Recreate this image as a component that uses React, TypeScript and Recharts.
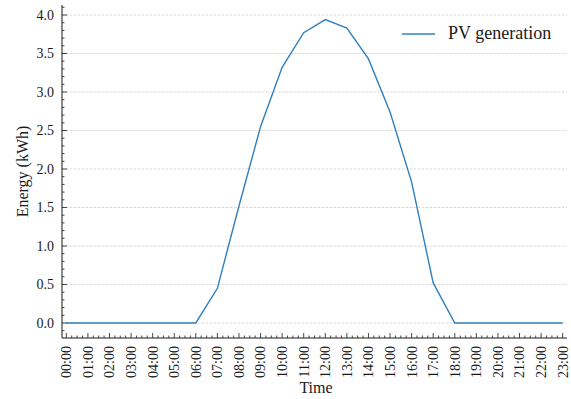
import { LineChart, Line, XAxis, YAxis, ReferenceLine, Legend } from "recharts";

const HOURS = [
  "00:00", "01:00", "02:00", "03:00", "04:00", "05:00", "06:00", "07:00",
  "08:00", "09:00", "10:00", "11:00", "12:00", "13:00", "14:00", "15:00",
  "16:00", "17:00", "18:00", "19:00", "20:00", "21:00", "22:00", "23:00",
];
const PV_KWH = [
  0, 0, 0, 0, 0, 0, 0, 0.45, 1.52, 2.55, 3.32, 3.77,
  3.94, 3.83, 3.43, 2.74, 1.83, 0.52, 0, 0, 0, 0, 0, 0,
];
const Y_GRID = [0, 0.5, 1, 1.5, 2, 2.5, 3, 3.5, 4];
const Y_LABELS = ["0.0", "0.5", "1.0", "1.5", "2.0", "2.5", "3.0", "3.5", "4.0"];

const data = HOURS.map((label, i) => ({ t: i, label, pv: PV_KWH[i] }));

// major ticks each hour / 0.5, minor ticks every quarter hour / 0.1
const X_TICKS = Array.from({ length: HOURS.length * 4 - 3 }, (_, i) => i / 4);
const Y_TICKS = Array.from({ length: 43 }, (_, i) => (i - 1) / 10);

const FONT = "'Liberation Serif', 'DejaVu Serif', serif";
const INK = "#1a1a1a";
const BLUE = "#2f7fbf";

const isMajorY = (v: number) => Math.abs(v * 2 - Math.round(v * 2)) < 1e-6;
const yLabel = (v: number) => Y_LABELS[Y_GRID.findIndex((g) => Math.abs(g - v) < 1e-6)];

function BottomTick({ x, y, payload }: any) {
  const v = payload.value;
  const major = Number.isInteger(v);
  return (
    <g>
      <line x1={x} y1={y} x2={x} y2={y - (major ? 5 : 2.5)} stroke={INK} strokeWidth={0.8} />
      {major && (
        <text
          transform={`translate(${x}, ${y + 8}) rotate(-90)`}
          textAnchor="end"
          dy="0.35em"
          fontFamily={FONT}
          fontSize={14}
          fill={INK}
        >
          {HOURS[v]}
        </text>
      )}
    </g>
  );
}

function TopTick({ x, y, payload }: any) {
  const major = Number.isInteger(payload.value);
  return <line x1={x} y1={y} x2={x} y2={y + (major ? 5 : 2.5)} stroke={INK} strokeWidth={0.8} />;
}

function LeftTick({ x, y, payload }: any) {
  const v = payload.value;
  const major = isMajorY(v);
  return (
    <g>
      <line x1={x} y1={y} x2={x + (major ? 5 : 2.5)} y2={y} stroke={INK} strokeWidth={0.8} />
      {major && (
        <text x={x - 8} y={y} dy="0.35em" textAnchor="end" fontFamily={FONT} fontSize={14} fill={INK}>
          {yLabel(v)}
        </text>
      )}
    </g>
  );
}

function RightTick({ x, y, payload }: any) {
  const major = isMajorY(payload.value);
  return <line x1={x} y1={y} x2={x - (major ? 5 : 2.5)} y2={y} stroke={INK} strokeWidth={0.8} />;
}

function LegendBox({ payload }: any) {
  return (
    <div style={{ display: "flex", alignItems: "center", fontFamily: FONT, fontSize: 18, color: INK }}>
      {(payload || []).map((p: any) => (
        <div key={p.value} style={{ display: "flex", alignItems: "center" }}>
          <svg width={44} height={10}>
            <line x1={6} x2={39} y1={5} y2={5} stroke={p.color} strokeWidth={1.5} />
          </svg>
          <span style={{ marginLeft: 8 }}>{p.value}</span>
        </div>
      ))}
    </div>
  );
}

export default function App() {
  return (
    <div style={{ position: "absolute", left: 0, top: 0, width: 571, height: 399, background: "#fff" }}>
      <LineChart width={571} height={399} data={data} margin={{ top: 5, right: 4, bottom: 0, left: 0 }}>
        <XAxis
          xAxisId="bottom"
          dataKey="t"
          type="number"
          domain={[-0.2, 23.2]}
          ticks={X_TICKS}
          interval={0}
          tickSize={0}
          tickMargin={0}
          tickLine={false}
          tick={<BottomTick />}
          height={61}
          axisLine={{ stroke: INK, strokeWidth: 1 }}
          label={{
            content: ({ viewBox }: any) => (
              <text
                x={viewBox.x + viewBox.width / 2 + 1.5}
                y={viewBox.y + 55}
                textAnchor="middle"
                fontFamily={FONT}
                fontSize={16}
                fill={INK}
              >
                Time
              </text>
            ),
          }}
        />
        <XAxis
          xAxisId="top"
          orientation="top"
          dataKey="t"
          type="number"
          domain={[-0.2, 23.2]}
          ticks={X_TICKS}
          interval={0}
          tickSize={0}
          tickMargin={0}
          tickLine={false}
          tick={<TopTick />}
          height={0}
          axisLine={{ stroke: INK, strokeWidth: 1 }}
        />
        <YAxis
          yAxisId="left"
          type="number"
          domain={[-0.195, 4.13]}
          ticks={Y_TICKS}
          interval={0}
          tickSize={0}
          tickMargin={0}
          tickLine={false}
          tick={<LeftTick />}
          width={62}
          axisLine={{ stroke: INK, strokeWidth: 1 }}
          label={{
            content: ({ viewBox }: any) => (
              <text
                transform={`translate(${viewBox.x + 22}, ${viewBox.y + viewBox.height / 2}) rotate(-90)`}
                textAnchor="middle"
                dy="0.35em"
                fontFamily={FONT}
                fontSize={16}
                fill={INK}
              >
                Energy (kWh)
              </text>
            ),
          }}
        />
        <YAxis
          yAxisId="right"
          orientation="right"
          type="number"
          domain={[-0.195, 4.13]}
          ticks={Y_TICKS}
          interval={0}
          tickSize={0}
          tickMargin={0}
          tickLine={false}
          tick={<RightTick />}
          width={0}
          axisLine={{ stroke: INK, strokeWidth: 1 }}
        />
        {Y_GRID.map((g) => (
          <ReferenceLine
            key={g}
            xAxisId="bottom"
            yAxisId="left"
            y={g}
            stroke="#c6c6c6"
            strokeWidth={0.7}
            strokeDasharray="2.5 1.5"
          />
        ))}
        <Line
          xAxisId="bottom"
          yAxisId="left"
          type="linear"
          dataKey="pv"
          name="PV generation"
          stroke={BLUE}
          strokeWidth={1.4}
          dot={false}
          activeDot={false}
          isAnimationActive={false}
        />
        <Legend
          layout="horizontal"
          verticalAlign="middle"
          align="center"
          wrapperStyle={{ left: 396, top: 23, width: 172 }}
          content={<LegendBox />}
        />
      </LineChart>
    </div>
  );
}
